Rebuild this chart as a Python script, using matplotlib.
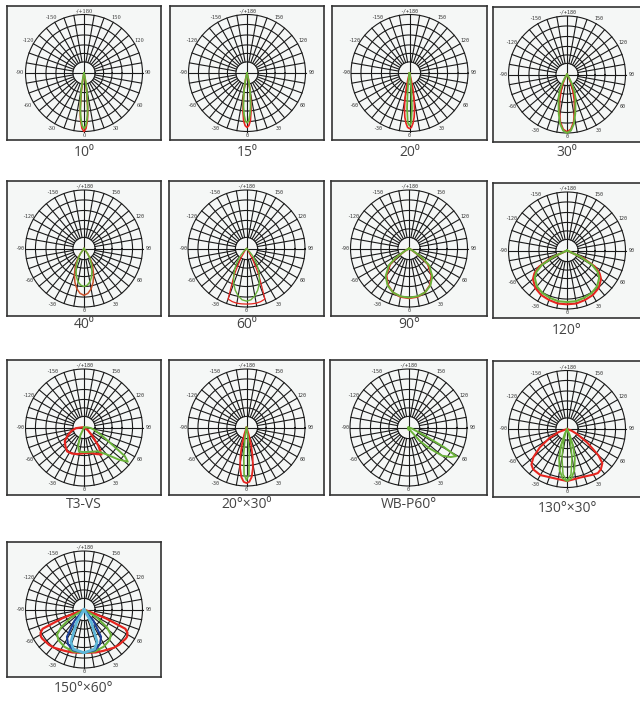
import numpy as np
import matplotlib
matplotlib.use("Agg")
import matplotlib.pyplot as plt

W, H = 640, 701

# ---- data (angle in degrees from nadir, r relative to outer ring) ----
# symmetric beams: half profile, mirrored when drawn
B10_ANG = [0, 2, 4, 5, 6, 8, 10, 12, 14]
B10_RED = [1.0, 0.95, 0.82, 0.72, 0.6, 0.35, 0.15, 0.03, 0]
B10_GREEN = [0.95, 0.9, 0.78, 0.7, 0.6, 0.4, 0.22, 0.08, 0]

B15_ANG = [0, 2, 4, 6, 8, 10, 12, 14, 16]
B15_RED = [0.93, 0.9, 0.82, 0.66, 0.45, 0.28, 0.14, 0.05, 0]
B15_GREEN = [0.85, 0.82, 0.72, 0.58, 0.42, 0.28, 0.15, 0.05, 0]

B20_ANG = [0, 2, 4, 6, 8, 10, 12, 14, 16]
B20_RED = [0.95, 0.93, 0.86, 0.76, 0.62, 0.45, 0.28, 0.12, 0]
B20_GREEN = [0.9, 0.85, 0.6, 0.3, 0.12, 0.04, 0, 0, 0]

B30_ANG = [0, 4, 8, 12, 16, 20, 24, 28, 32, 36]
B30_RED = [0.98, 0.94, 0.82, 0.63, 0.45, 0.3, 0.18, 0.08, 0.02, 0]
B30_GREEN = [1.0, 0.96, 0.85, 0.68, 0.52, 0.42, 0.3, 0.18, 0.07, 0]

B40_ANG = [0, 5, 10, 15, 20, 25, 30, 35, 40]
B40_RED = [0.8, 0.77, 0.7, 0.6, 0.48, 0.36, 0.24, 0.12, 0]
B40_GREEN = [0.65, 0.63, 0.58, 0.5, 0.4, 0.3, 0.2, 0.1, 0]

B60_ANG = [0, 5, 10, 15, 20, 25, 30, 35, 40, 45, 50]
B60_RED = [0.95, 0.95, 0.95, 0.94, 0.92, 0.5, 0.2, 0.05, 0, 0, 0]
B60_GREEN = [0.9, 0.88, 0.82, 0.74, 0.64, 0.52, 0.4, 0.28, 0.16, 0.06, 0]

B90_ANG = [0, 10, 20, 30, 40, 50, 55, 60, 65]
B90_RED = [0.85, 0.84, 0.8, 0.72, 0.6, 0.42, 0.25, 0.06, 0]
B90_GREEN = [0.84, 0.83, 0.8, 0.73, 0.62, 0.45, 0.28, 0.08, 0]

B120_ANG = [0, 10, 20, 30, 40, 50, 55, 60, 65, 70]
B120_RED = [0.92, 0.92, 0.9, 0.88, 0.84, 0.76, 0.68, 0.55, 0.3, 0]
B120_GREEN = [0.88, 0.88, 0.86, 0.84, 0.8, 0.72, 0.64, 0.5, 0.25, 0]

B2030_ANG = [0, 3, 6, 9, 12, 15, 18, 21]
B2030_RED = [0.95, 0.93, 0.85, 0.7, 0.5, 0.3, 0.12, 0]
B2030_GREEN = [0.9, 0.8, 0.45, 0.15, 0.03, 0, 0, 0]

B13030_G_ANG = [0, 5, 10, 15, 20, 25, 30]
B13030_GREEN1 = [0.89, 0.85, 0.72, 0.52, 0.3, 0.1, 0]
B13030_GREEN2 = [0.89, 0.78, 0.5, 0.22, 0.06, 0, 0]

B15060_RED_ANG = [0, 15, 25, 38, 45, 55, 58, 62, 65, 68, 72]
B15060_RED = [0.74, 0.76, 0.78, 0.83, 0.85, 0.87, 0.87, 0.84, 0.78, 0.4, 0]
B15060_GREEN_ANG = [0, 15, 28, 40, 47, 52, 58, 62]
B15060_GREEN = [0.74, 0.74, 0.72, 0.68, 0.63, 0.5, 0.27, 0]
B15060_BLUE_ANG = [0, 15, 25, 32, 40, 45]
B15060_BLUE = [0.74, 0.72, 0.65, 0.55, 0.25, 0]
B15060_CYAN_ANG = [0, 15, 22, 30, 35]
B15060_CYAN = [0.74, 0.7, 0.6, 0.25, 0]

# asymmetric beams: full profile
T3_RED_ANG = [-95, -85, -75, -65, -55, -45, -35, -25, -15, 0, 15, 25, 33, 38, 45, 55, 65]
T3_RED = [0.03, 0.14, 0.22, 0.3, 0.4, 0.45, 0.5, 0.49, 0.47, 0.44, 0.45, 0.5, 0.55, 0.4, 0.2, 0.08, 0]
T3_GREEN_ANG = [-35, -25, -18, -12, 0, 15, 30, 40, 47, 52, 55, 58, 65, 75, 85, 95, 105]
T3_GREEN = [0, 0.15, 0.32, 0.42, 0.42, 0.43, 0.47, 0.6, 0.8, 0.95, 0.85, 0.6, 0.35, 0.2, 0.12, 0.05, 0]

WB_ANG = [-20, -10, 0, 20, 30, 40, 45, 50, 55, 59, 61, 63, 66, 75, 90]
WB_GREEN = [0, 0.03, 0.04, 0.03, 0.05, 0.3, 0.5, 0.75, 0.88, 0.95, 0.7, 0.35, 0.15, 0.05, 0]

C130_RED_ANG = [-75, -70, -63, -56, -50, -45, -40, -30, -15, 0, 15, 30, 35, 40, 46, 50, 56, 63, 70, 75]
C130_RED = [0, 0.15, 0.33, 0.56, 0.75, 0.86, 0.9, 0.91, 0.87, 0.89, 0.86, 0.9, 0.92, 0.9, 0.84, 0.7, 0.42, 0.2, 0.08, 0]

LABELS = ["10\u2070", "15\u2070", "20\u2070", "30\u2070",
          "40\u2070", "60\u2070", "90\u00b0", "120\u00b0",
          "T3-VS", "20\u00b0\u00d730\u2070", "WB-P60\u00b0", "130\u00b0\u00d730\u00b0",
          "150\u00b0\u00d760\u00b0"]

RED = "#e5251f"
GREEN = "#6ab23a"
BLUE = "#1d3f97"
CYAN = "#5db7d9"

# panel boxes in pixels (left, top, right, bottom) and label y
BOXES = [(7, 6, 161, 140), (170, 6, 324, 140), (332, 6, 487, 140), (493, 7, 641, 142),
         (7, 181, 161, 316), (169, 181, 324, 316), (331, 181, 487, 316), (493, 183, 641, 318),
         (7, 360, 161, 495), (169, 360, 324, 495), (330, 360, 487, 495), (493, 361, 641, 497),
         (7, 542, 161, 677)]
LABEL_Y = [152, 152, 152, 152, 325, 325, 325, 330, 505, 505, 505, 509, 689]

R_PX = 58.5
RINGS = [0.19, 0.335, 0.48, 0.65, 0.83, 1.0]


def sym(ang, r):
    a = np.asarray(ang, float)
    r = np.asarray(r, float)
    return np.concatenate([-a[::-1], a[1:]]), np.concatenate([r[::-1], r[1:]])


def full(ang, r):
    return np.asarray(ang, float), np.asarray(r, float)


def polar_xy(ang, r):
    t = np.radians(ang)
    x = r * np.sin(t)
    y = -r * np.cos(t)
    # start and end at the centre
    return np.r_[0, x, 0], np.r_[0, y, 0]


PANEL_CURVES = [
    [(sym(B10_ANG, B10_RED), RED, 1.2), (sym(B10_ANG, B10_GREEN), GREEN, 1.3)],
    [(sym(B15_ANG, B15_RED), RED, 1.2), (sym(B15_ANG, B15_GREEN), GREEN, 1.3)],
    [(sym(B20_ANG, B20_RED), RED, 1.2), (sym(B20_ANG, B20_GREEN), GREEN, 1.3)],
    [(sym(B30_ANG, B30_RED), RED, 1.3), (sym(B30_ANG, B30_GREEN), GREEN, 1.4)],
    [(sym(B40_ANG, B40_RED), "#c8502a", 1.1), (sym(B40_ANG, B40_GREEN), GREEN, 1.1)],
    [(sym(B60_ANG, B60_RED), RED, 0.9), (sym(B60_ANG, B60_GREEN), GREEN, 1.0)],
    [(sym(B90_ANG, B90_RED), RED, 1.4), (sym(B90_ANG, B90_GREEN), GREEN, 1.4)],
    [(sym(B120_ANG, B120_RED), RED, 1.5), (sym(B120_ANG, B120_GREEN), GREEN, 1.5)],
    [(full(T3_RED_ANG, T3_RED), RED, 1.6), (full(T3_GREEN_ANG, T3_GREEN), GREEN, 1.4)],
    [(sym(B2030_ANG, B2030_RED), RED, 1.3), (sym(B2030_ANG, B2030_GREEN), GREEN, 1.2)],
    [(full(WB_ANG, WB_GREEN), GREEN, 1.4)],
    [(full(C130_RED_ANG, C130_RED), RED, 1.5),
     (sym(B13030_G_ANG, B13030_GREEN1), GREEN, 1.3),
     (sym(B13030_G_ANG, B13030_GREEN2), GREEN, 1.1)],
    [(sym(B15060_RED_ANG, B15060_RED), RED, 1.6),
     (sym(B15060_GREEN_ANG, B15060_GREEN), GREEN, 1.5),
     (sym(B15060_BLUE_ANG, B15060_BLUE), BLUE, 1.5),
     (sym(B15060_CYAN_ANG, B15060_CYAN), CYAN, 2.0)],
]

TICKS = [(0, "0"), (30, "30"), (60, "60"), (90, "90"), (120, "120"), (150, "150"),
         (180, "-/+180"), (-150, "-150"), (-120, "-120"), (-90, "-90"), (-60, "-60"), (-30, "-30")]


def draw_grid(ax, tick_family):
    th = np.linspace(0, 2 * np.pi, 361)
    for rr in RINGS:
        ax.plot(rr * np.cos(th), rr * np.sin(th), color="#1a1a1a", lw=0.8, zorder=1)
    for a in range(0, 360, 10):
        t = np.radians(a)
        r0 = 0.0 if a % 90 == 0 else RINGS[0]
        ax.plot([r0 * np.sin(t), np.sin(t)], [r0 * np.cos(t), np.cos(t)],
                color="#1a1a1a", lw=0.8, zorder=1)
    for a, txt in TICKS:
        t = np.radians(a)
        rr = 1.1 if a not in (0, 180) else 1.06
        ax.text(rr * np.sin(t), -rr * np.cos(t), txt, fontsize=3.6, color="#333333",
                ha="center", va="center", family=tick_family, zorder=2)


fig = plt.figure(figsize=(W / 100, H / 100), dpi=100)
fig.patch.set_facecolor("white")

for i, (x0, y0, x1, y1) in enumerate(BOXES):
    pw, ph = x1 - x0, y1 - y0
    ax = fig.add_axes([x0 / W, 1 - y1 / H, pw / W, ph / H])
    ax.set_facecolor("#f5f7f6")
    ax.set_xlim(-pw / 2 / R_PX, pw / 2 / R_PX)
    ax.set_ylim(-ph / 2 / R_PX, ph / 2 / R_PX)
    ax.set_xticks([])
    ax.set_yticks([])
    for s in ax.spines.values():
        s.set_color("#333333")
        s.set_linewidth(1.2)
    draw_grid(ax, "DejaVu Serif" if i == 0 else "DejaVu Sans Mono")
    for (ang, r), col, lw in PANEL_CURVES[i]:
        x, y = polar_xy(ang, r)
        ax.plot(x, y, color=col, lw=lw, zorder=3, solid_joinstyle="round")
    fig.text((x0 + x1) / 2 / W, 1 - LABEL_Y[i] / H, LABELS[i], ha="center", va="center",
             fontsize=10, color="#444444", family=["Open Sans", "DejaVu Sans"])

fig.savefig("out.png", dpi=100)
